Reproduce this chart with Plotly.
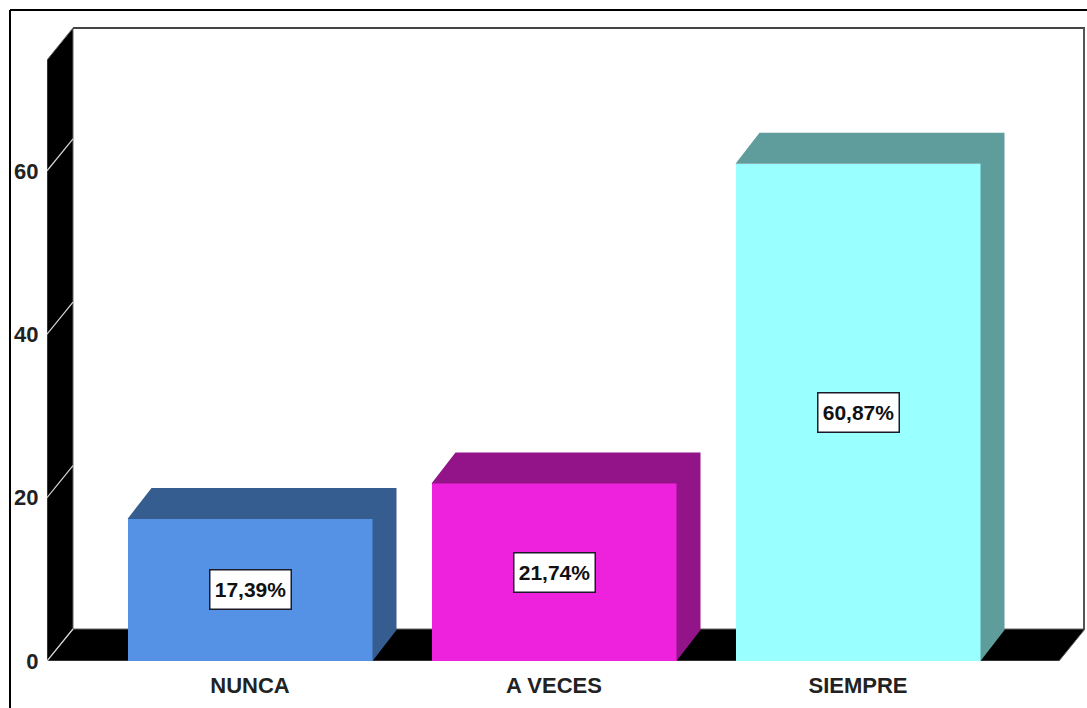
import plotly.graph_objects as go

categories = ["NUNCA", "A VECES", "SIEMPRE"]
values = [17.39, 21.74, 60.87]
value_labels = ["17,39%", "21,74%", "60,87%"]
front_colors = ["#5591e4", "#ee22dd", "#99ffff"]
depth_colors = ["#355d90", "#931388", "#5f9d9c"]
y_ticks = [0, 20, 40, 60]

W, H = 1087, 708
L, R, T, B = 47, 1085, 28, 661
PX_X = 304.0           # px per category
PX_Y = 8.17            # px per value unit
x_min = (L - 250) / PX_X
x_max = (R - 250) / PX_X
y_max = (B - T) / PX_Y
bar_w = 245 / PX_X
bar_dx, bar_dy = 24 / PX_X, 31 / PX_Y
wall_dx, wall_dy = 26 / PX_X, 32 / PX_Y
FONT = "Liberation Sans, Arial, sans-serif"

xs = list(range(len(categories)))
fig = go.Figure()

# front faces
fig.add_trace(go.Bar(x=xs, y=values, width=bar_w, marker=dict(color=front_colors, line=dict(width=0)),
                     hoverinfo="skip", showlegend=False))

# extruded faces
for i, v in enumerate(values):
    x0, x1 = i - bar_w / 2, i + bar_w / 2
    px = [x0, x0 + bar_dx, x1 + bar_dx, x1 + bar_dx, x1, x1, x0]
    py = [v, v + bar_dy, v + bar_dy, bar_dy, 0, v, v]
    fig.add_trace(go.Scatter(x=px, y=py, mode="none", fill="toself", fillcolor=depth_colors[i],
                             hoverinfo="skip", showlegend=False))

shapes = []


def poly(pts, fill, line="#666666", width=1):
    path = "M " + " L ".join(f"{a},{b}" for a, b in pts) + " Z"
    shapes.append(dict(type="path", path=path, xref="x", yref="y", fillcolor=fill, layer="below",
                       line=dict(color=line, width=width)))


# left wall and floor
poly([(x_min, 0), (x_min + wall_dx, wall_dy), (x_min + wall_dx, y_max), (x_min, y_max - wall_dy)], "#000000")
poly([(x_min, 0), (x_min + wall_dx, wall_dy), (x_max, wall_dy), (x_max - wall_dx, 0)], "#000000")

# wall tick marks
for t in y_ticks:
    shapes.append(dict(type="line", xref="x", yref="y", x0=x_min, y0=t, x1=x_min + wall_dx, y1=t + wall_dy,
                       layer="below", line=dict(color="#d8d8d8", width=1.2)))


# frame lines, placed in paper space so the plot area does not clip them
def px_x(p):
    return (p - L) / (R - L)


def px_y(p):
    return (B - p) / (B - T)


def frame(x0, y0, x1, y1, color, width):
    shapes.append(dict(type="line", xref="paper", yref="paper", x0=px_x(x0), y0=px_y(y0), x1=px_x(x1), y1=px_y(y1),
                       line=dict(color=color, width=width)))


frame(L + 26, T, R, T, "#444444", 2)
frame(R - 1, T, R - 1, B - 32, "#555555", 2)
frame(10, H, 10, 10, "#000000", 2)
frame(10, 10, W, 10, "#000000", 2)

annotations = [
    dict(x=i, y=v / 2, xref="x", yref="y", text=f"<b>{lab}</b>", showarrow=False,
         font=dict(family=FONT, size=21, color="#111111"), bgcolor="#ffffff",
         bordercolor="#1a1a2a", borderwidth=1.5, width=78, height=36, align="center", valign="middle")
    for i, (v, lab) in enumerate(zip(values, value_labels))
]

fig.update_layout(
    width=W, height=H, margin=dict(l=L, r=W - R, t=T, b=H - B, pad=0),
    paper_bgcolor="#ffffff", plot_bgcolor="#ffffff", showlegend=False, bargap=0,
    shapes=shapes, annotations=annotations,
    font=dict(family=FONT, color="#222222"),
    xaxis=dict(range=[x_min, x_max], tickmode="array", tickvals=xs,
               ticktext=[f"<b>{c}</b>" for c in categories], showgrid=False, zeroline=False,
               showline=False, ticks="outside", ticklen=5, tickcolor="rgba(0,0,0,0)",
               tickfont=dict(family=FONT, size=22, color="#222222")),
    yaxis=dict(range=[0, y_max], tickmode="array", tickvals=y_ticks,
               ticktext=[f"<b>{t}</b>" for t in y_ticks], showgrid=False, zeroline=False,
               showline=False, ticks="outside", ticklen=3, tickcolor="rgba(0,0,0,0)",
               tickfont=dict(family=FONT, size=22, color="#222222")),
)

fig.write_html("out.html", config={"displayModeBar": False},
               post_script="document.body.style.margin='0';document.body.style.overflow='hidden';")
